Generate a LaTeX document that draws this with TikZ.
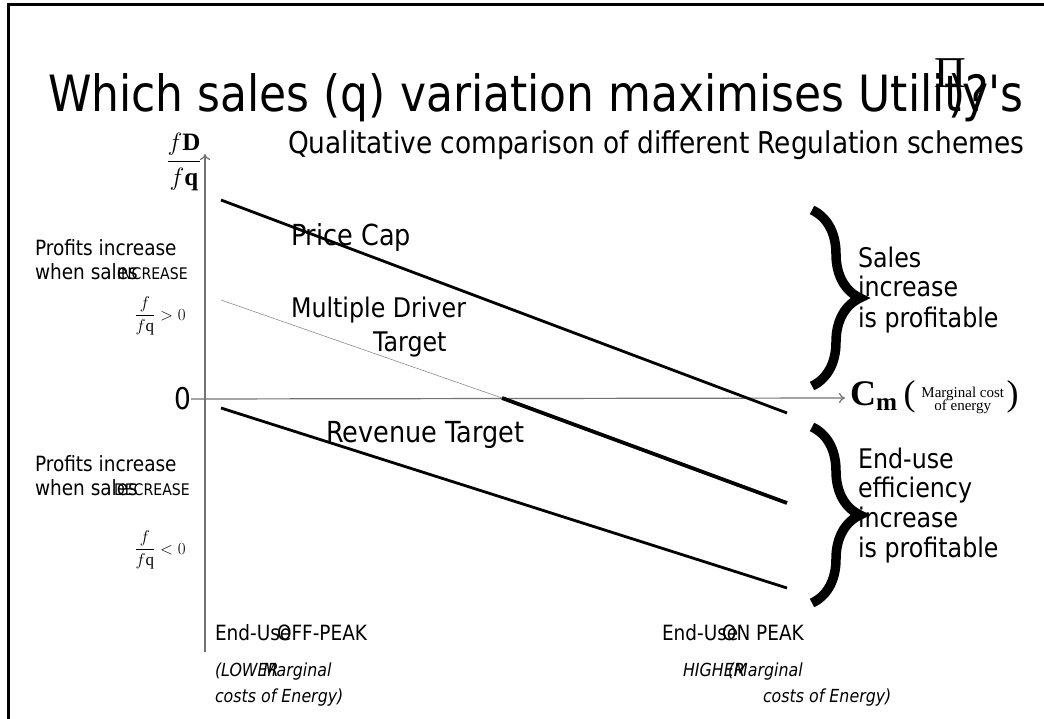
\RequirePackage{fix-cm}
\documentclass[tikz,border=0pt]{standalone}
\usepackage{amsmath}
\usepackage{fontspec}
\setmainfont{Liberation Serif}
\newfontfamily\tah{DejaVu Sans}[FakeStretch=0.88]
\usetikzlibrary{arrows.meta,decorations.pathreplacing}

\begin{document}
\begin{tikzpicture}[x=1pt,y=-1pt,
    every node/.style={inner sep=0pt,outer sep=0pt},
    lbl/.style={font=\tah\fontsize{21}{24}\selectfont,anchor=base west},
    curve lbl/.style={font=\tah\fontsize{27}{30}\selectfont,anchor=base west},
    side lbl/.style={font=\tah\fontsize{27}{30}\selectfont,anchor=base west},
    small cap/.style={font=\tah\fontsize{16}{18}\selectfont,anchor=base west},
    note/.style={font=\tah\itshape\fontsize{18}{21}\selectfont,anchor=base west},
    axis/.style={draw=black!55,line width=1.2pt,-{To[length=6pt,width=10pt]}},
    scheme/.style={line width=2.8pt},
    bigbrace/.style={decorate,decoration={brace,amplitude=48pt},line width=9.5pt}]
    \useasboundingbox (0,0) rectangle (1044,719);
    \draw[line width=3pt] (1044,5) -- (8,5) -- (8,719);
    % title
    \draw node[font=\tah\fontsize{50}{56}\selectfont,anchor=base west](title)at(48,112)
            {Which sales (q) variation maximises Utility's}
          node[font=\fontsize{44}{44}\selectfont,anchor=base west](pi)at(934,88){Π}
          node[font=\tah\fontsize{50}{56}\selectfont,anchor=base west](qm)at(948,112){)?}
          node[font=\tah\fontsize{30}{34}\selectfont,anchor=base west](sub)at(288,154)
            {Qualitative comparison of different Regulation schemes};
    % axes
    \coordinate(ybot)at(205,652);
    \coordinate(ytop)at(205,154);
    \coordinate(xend)at(845,398);
    \draw node[font=\fontsize{25}{28}\selectfont](ylab)at(184,162)
            {$\dfrac{f\mathbf{D}}{f\mathbf{q}}$}
          node[font=\tah\fontsize{30}{34}\selectfont,anchor=east](zero)at(191,399){0};
    \draw[axis](ybot)--(ytop);
    \draw[axis](zero.east)--(xend);
    \draw node[anchor=base west](cm)at(850,405)
            {\fontsize{36}{38}\selectfont\textbf{C}\textsubscript{\textbf{m}}\,(\,\fontsize{15}{16}\selectfont
             \begin{tabular}{@{}c@{}}Marginal cost\\[-3pt]of energy\end{tabular}\,\fontsize{36}{38}\selectfont)};
    % regulation schemes
    \coordinate(pc1)at(221,200); \coordinate(pc2)at(787,413);
    \coordinate(md1)at(221,300); \coordinate(md2)at(502,398); \coordinate(md3)at(787,503);
    \coordinate(rt1)at(221,408); \coordinate(rt2)at(787,588);
    \draw[scheme](pc1)--(pc2);
    \draw[black!45,line width=0.6pt](md1)--(md2);
    \draw[line width=3.8pt](md2)--(md3);
    \draw[scheme](rt1)--(rt2);
    \draw node[curve lbl,font=\tah\fontsize{29}{32}\selectfont](pc)at(291,246){Price Cap}
          node[curve lbl](md)at(291,317){Multiple Driver}
          node[curve lbl](tg)at(373,351){Target}
          node[curve lbl,font=\tah\fontsize{29}{32}\selectfont](rt)at(326,442){Revenue Target};
    % left notes
    \draw node[lbl](up1)at(35,256){Profits increase}
          node[lbl](up2)at(35,280){when sales}
          node[small cap](up3)at(117,280){INCREASE}
          node[font=\fontsize{17}{20}\selectfont](upf)at(160,316){$\dfrac{f}{f\mathrm{q}}>0$}
          node[lbl](dn1)at(35,471){Profits increase}
          node[lbl](dn2)at(35,495){when sales}
          node[small cap](dn3)at(114,495){DECREASE}
          node[font=\fontsize{17}{20}\selectfont](dnf)at(160,550){$\dfrac{f}{f\mathrm{q}}<0$};
    % braces
    \coordinate(b1t)at(812,210); \coordinate(b1b)at(812,386);
    \coordinate(b2t)at(812,427); \coordinate(b2b)at(812,603);
    \draw[bigbrace](b1t)--(b1b);
    \draw[bigbrace](b2t)--(b2b);
    \draw node[side lbl](s1)at(858,268){Sales}
          node[side lbl](s2)at(858,297){increase}
          node[side lbl](s3)at(858,327){is profitable}
          node[side lbl](e1)at(858,468){End-use}
          node[side lbl](e2)at(858,497){efficiency}
          node[side lbl](e3)at(858,527){increase}
          node[side lbl](e4)at(858,557){is profitable};
    % bottom notes
    \draw node[lbl](off1)at(215,640){End-Use}
          node[lbl](off2)at(277,640){OFF-PEAK}
          node[note](lo1)at(215,676){(LOWER}
          node[note](lo2)at(263,676){Marginal}
          node[note](lo3)at(215,702){costs of Energy)}
          node[lbl](on1)at(662,640){End-Use}
          node[lbl](on2)at(722,640){ON PEAK}
          node[note](hi1)at(683,676){HIGHER}
          node[note](hi2)at(728,676){(Marginal}
          node[note](hi3)at(763,702){costs of Energy)};
\end{tikzpicture}
\end{document}
